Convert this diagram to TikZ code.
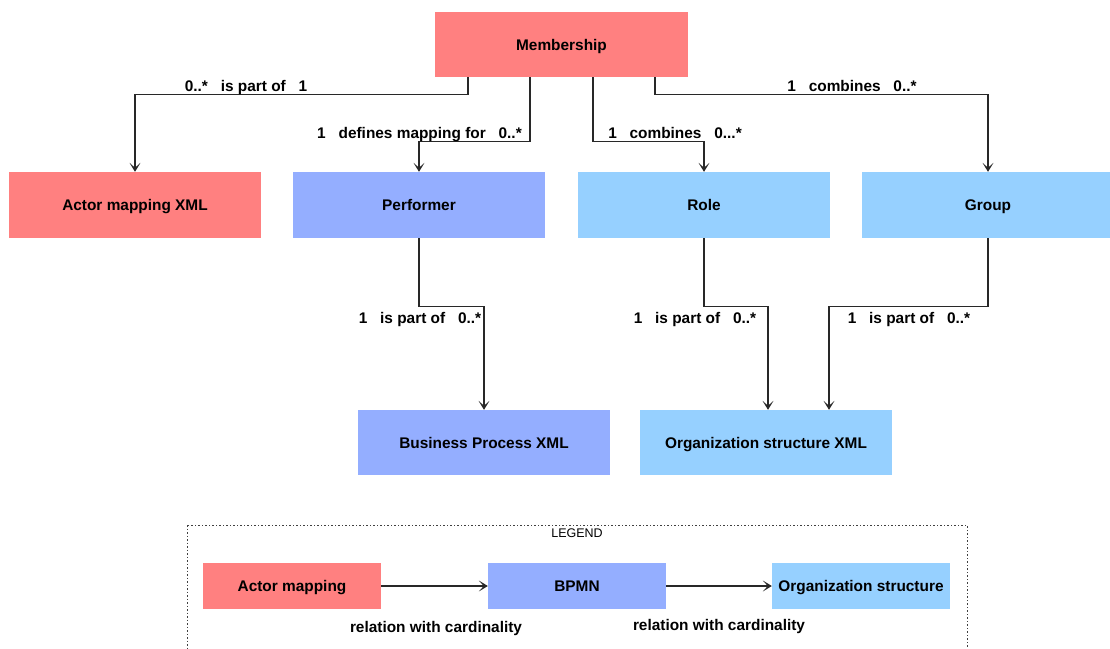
\documentclass[tikz,border=0pt]{standalone}
\usepackage{fontspec}
\setmainfont{Liberation Sans}
\usetikzlibrary{arrows.meta,calc}
\definecolor{mapred}{RGB}{255,128,128}
\definecolor{bpmnblue}{RGB}{148,174,255}
\definecolor{orgblue}{RGB}{150,208,255}
\definecolor{conncol}{RGB}{40,40,40}
\tikzset{
  boldtext/.style={font=\fontsize{15.4}{18}\selectfont\bfseries,
    text height=11pt, text depth=0pt, inner sep=0pt},
  entity/.style={boldtext, rectangle, draw=none, minimum width=252pt, minimum height=66pt},
  legendbox/.style={boldtext, rectangle, draw=none, minimum width=178pt, minimum height=46pt},
  conn/.style={draw=conncol, line width=1.3pt,
    -{Stealth[length=9pt,width=11pt,inset=5pt]}},
  rel/.style={boldtext},
}
\newcommand{\gap}{\ \ \ }
\begin{document}
\begin{tikzpicture}[x=1pt,y=-1pt]
\useasboundingbox (0,0) rectangle (1110,648);
\clip (0,0) rectangle (1110,648);

% entities
\node[entity, fill=mapred, minimum width=253pt, minimum height=65pt] (mem) at (561.5,44.5) {Membership};
\node[entity, fill=mapred] (actor) at (135,205) {Actor mapping XML};
\node[entity, fill=bpmnblue] (perf) at (419,205) {Performer};
\node[entity, fill=orgblue] (role) at (704,205) {Role};
\node[entity, fill=orgblue] (group) at (988,205) {Group};
\node[entity, fill=bpmnblue, minimum height=65pt] (bpx) at (484,442.5) {Business Process XML};
\node[entity, fill=orgblue, minimum height=65pt] (osx) at (766,442.5) {Organization structure XML};

% relations from Membership
\draw[conn] ($(mem.south)+(-93.5,0)$) -- ++(0,17) -| (actor.north);
\draw[conn] ($(mem.south)+(-31.5,0)$) -- ++(0,64) -| (perf.north);
\draw[conn] ($(mem.south)+(31.5,0)$) -- ++(0,64) -| (role.north);
\draw[conn] ($(mem.south)+(93.5,0)$) -- ++(0,17) -| (group.north);

% relations to the XML files
\draw[conn] (perf.south) -- ++(0,68) -| (bpx.north);
\draw[conn] (role.south) -- ++(0,68) -| ($(osx.north)+(2,0)$);
\draw[conn] (group.south) -- ++(0,68) -| ($(osx.north)+(63,0)$);

% cardinality labels
\node[rel] (l1) at (246,86) {0..*\gap is part of\gap 1};
\node[rel] (l2) at (419.5,133) {1\gap defines mapping for\gap 0..*};
\node[rel] (l3) at (675,133) {1\gap combines\gap 0...*};
\node[rel] (l4) at (852,86) {1\gap combines\gap 0..*};
\node[rel] (l5) at (420,318) {1\gap is part of\gap 0..*};
\node[rel] (l6) at (695,318) {1\gap is part of\gap 0..*};
\node[rel] (l7) at (909,318) {1\gap is part of\gap 0..*};

% legend
\draw[draw=black!75, line width=1pt, dash pattern=on 1.5pt off 2pt] (187,525) rectangle (967,670);
\node[font=\fontsize{12.5}{15}\selectfont, text height=9pt, text depth=0pt, inner sep=0pt] (legtitle) at (577,533) {LEGEND};
\node[legendbox, fill=mapred] (la) at (292,586) {Actor mapping};
\node[legendbox, fill=bpmnblue] (lb) at (577,586) {BPMN};
\node[legendbox, fill=orgblue] (lc) at (861,586) {Organization structure};
\draw[conn] (la) -- (lb);
\draw[conn] (lb) -- (lc);
\node[rel] (lr1) at (436,627) {relation with cardinality};
\node[rel] (lr2) at (719,625) {relation with cardinality};
\end{tikzpicture}
\end{document}
